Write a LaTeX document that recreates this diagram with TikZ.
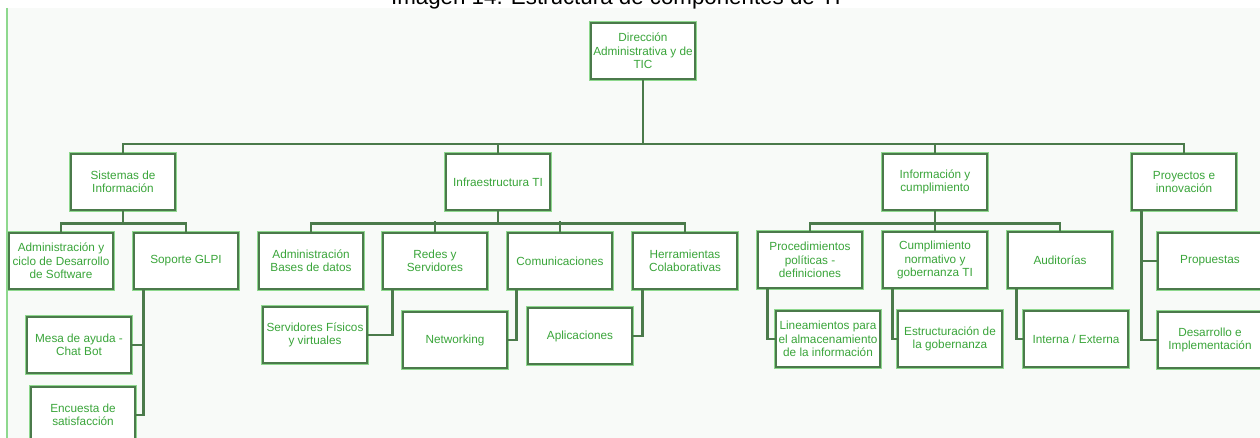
\documentclass[tikz,border=0pt]{standalone}
\usepackage{fontspec}
\setmainfont{Liberation Sans}
\definecolor{boxline}{HTML}{4B7A4B}
\definecolor{boxglow}{HTML}{8ED88E}
\definecolor{boxtext}{HTML}{3AA53A}
\definecolor{panel}{HTML}{F8FAF8}

\begin{document}
\begin{tikzpicture}[x=0.02cm, y=-0.02cm,
    unit/.style={draw=boxline, line width=1.6pt, fill=white,
        preaction={draw=boxglow, line width=2.5pt},
        minimum width=2.08cm, minimum height=1.12cm, inner sep=1pt,
        align=center, text=boxtext, font=\fontsize{6.7}{7.6}\selectfont},
    link/.style={draw=boxline, line width=1.5pt}]

    % Frame
    \clip (0,0) rectangle (1260,438);
    \fill[white] (0,0) rectangle (1260,438);
    \fill[panel] (7,8) rectangle (1260,438);
    \draw[boxglow, line width=0.8pt] (7,8) -- (7,438);
    \node[anchor=base, font=\fontsize{12.7}{15}\selectfont] (title) at (616,5)
        {Imagen 14. Estructura de componentes de TI};

    % Top
    \node[unit] (dir) at (643,51) {Dirección\\Administrativa y de\\TIC};

    % Level 1
    \node[unit] (sis) at (123,182) {Sistemas de\\Información};
    \node[unit] (infra) at (498,182) {Infraestructura TI};
    \node[unit] (info) at (935,182) {Información y\\cumplimiento};
    \node[unit] (proy) at (1184,182) {Proyectos e\\innovación};

    \coordinate (bus) at (643,144);
    \draw[link] (dir) -- (bus);
    \draw[link] (sis.north) |- (bus) -| (proy.north);
    \draw[link] (infra.north) -- (infra.north |- bus);
    \draw[link] (info.north) -- (info.north |- bus);

    % Sistemas de Informacion
    \node[unit] (ciclo) at (61,261) {Administración y\\ciclo de Desarrollo\\de Software};
    \node[unit] (glpi) at (186,261) {Soporte GLPI};
    \node[unit] (mesa) at (79,345) {Mesa de ayuda -\\Chat Bot};
    \node[unit] (encu) at (83,415) {Encuesta de\\satisfacción};

    \draw[link] (sis.south) -- ++(0,12) -| (ciclo.north);
    \draw[link] (sis.south) ++(0,12) -| (glpi.north);
    \draw[link] (glpi.south west) ++(11,0) |- (mesa.east);
    \draw[link] (glpi.south west) ++(11,0) |- (encu.east);

    % Infraestructura TI
    \node[unit] (bases) at (311,261) {Administración\\Bases de datos};
    \node[unit] (redes) at (435,261) {Redes y\\Servidores};
    \node[unit] (comu) at (560,261) {Comunicaciones};
    \node[unit] (herr) at (685,261) {Herramientas\\Colaborativas};
    \node[unit] (serv) at (315,335) {Servidores Físicos\\y virtuales};
    \node[unit] (netw) at (455,340) {Networking};
    \node[unit] (apli) at (580,336) {Aplicaciones};

    \draw[link] (infra.south) -- ++(0,12) -| (bases.north);
    \draw[link] (infra.south) ++(0,12) -| (herr.north);
    \draw[link] (redes.north) -- ++(0,-11);
    \draw[link] (comu.north) -- ++(0,-11);
    \draw[link] (redes.south west) ++(11,0) |- (serv.east);
    \draw[link] (comu.south west) ++(10,0) |- (netw.east);
    \draw[link] (herr.south west) ++(11,0) |- (apli.east);

    % Informacion y cumplimiento
    \node[unit] (proc) at (810,260) {Procedimientos\\políticas -\\definiciones};
    \node[unit] (cump) at (935,260) {Cumplimiento\\normativo y\\gobernanza TI};
    \node[unit] (audi) at (1060,260) {Auditorías};
    \node[unit] (line) at (828,339) {Lineamientos para\\el almacenamiento\\de la información};
    \node[unit] (estr) at (950,339) {Estructuración de\\la gobernanza};
    \node[unit] (inte) at (1076,339) {Interna / Externa};

    \draw[link] (info.south) -- ++(0,12) -| (proc.north);
    \draw[link] (info.south) ++(0,12) -| (audi.north);
    \draw[link] (info.south) -- (cump.north);
    \draw[link] (proc.south west) ++(11,0) |- (line.west);
    \draw[link] (cump.south west) ++(11,0) |- (estr.west);
    \draw[link] (audi.south west) ++(10,0) |- (inte.west);

    % Proyectos e innovacion
    \node[unit] (prop) at (1210,261) {Propuestas};
    \node[unit] (desa) at (1210,340) {Desarrollo e\\Implementación};

    \draw[link] (proy.south west) ++(11,0) |- (prop.west);
    \draw[link] (proy.south west) ++(11,0) |- (desa.west);
\end{tikzpicture}
\end{document}
